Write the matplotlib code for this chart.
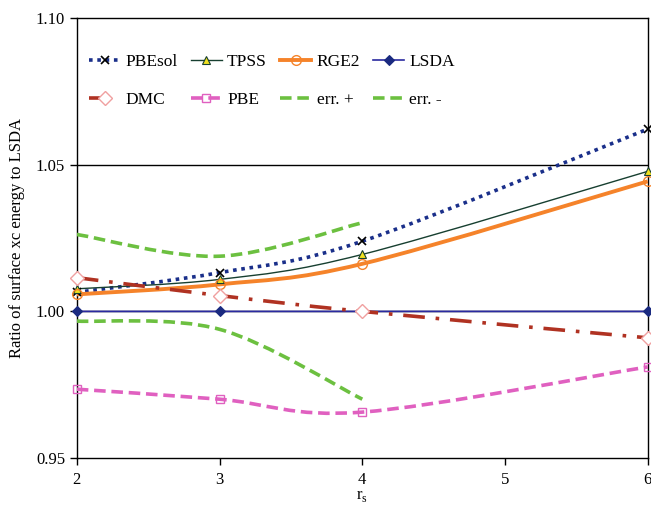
import numpy as np
import matplotlib
matplotlib.use("Agg")
import matplotlib.pyplot as plt
from matplotlib.path import Path
from matplotlib.patches import PathPatch
from matplotlib.lines import Line2D

plt.rcParams['font.family'] = ['Liberation Serif', 'DejaVu Serif']

rs = [2, 3, 4, 6]
rs_err = [2, 3, 4]
pbesol = [1.0065, 1.0132, 1.0239, 1.0621]
tpss = [1.0077, 1.0109, 1.0194, 1.0477]
rge2 = [1.0058, 1.0092, 1.0162, 1.0443]
lsda = [1.0, 1.0, 1.0, 1.0]
dmc = [1.0115, 1.0054, 1.0000, 0.9910]
pbe = [0.9735, 0.9701, 0.9657, 0.9811]
err_plus = [1.0262, 1.0188, 1.0302]
err_minus = [0.9967, 0.9939, 0.9701]

xticks = [2, 3, 4, 5, 6]
yticks = [0.95, 1.00, 1.05, 1.10]


def smooth_path(x, y):
    """Excel-style smoothed line as cubic Bezier path through the points."""
    pts = np.column_stack([x, y]).astype(float)
    n = len(pts)
    verts = [pts[0]]
    codes = [Path.MOVETO]
    for i in range(n - 1):
        p0 = pts[i - 1] if i > 0 else pts[i]
        p1 = pts[i]
        p2 = pts[i + 1]
        p3 = pts[i + 2] if i + 2 < n else pts[i + 1]
        c1 = p1 + (p2 - p0) / 6.0
        c2 = p2 - (p3 - p1) / 6.0
        verts += [c1, c2, p2]
        codes += [Path.CURVE4] * 3
    return Path(verts, codes)


fig = plt.figure(figsize=(6.51, 5.08), dpi=100)
ax = fig.add_axes([0.118, 0.098, 0.877, 0.867])
ax.set_xlim(2, 6)
ax.set_ylim(0.95, 1.10)

for g in [1.00, 1.05]:
    ax.axhline(g, color='black', lw=1.0, zorder=1)

series = [
    dict(x=rs, y=pbesol, color='#1a2f8a', lw=2.6, ls=(0, (1, 1.3)), marker='x',
         mfc='none', mec='black', ms=6, mew=1.2, label='PBEsol'),
    dict(x=rs, y=tpss, color='#173f30', lw=1.0, ls='-', marker='^',
         mfc='#f0e020', mec='#173f30', ms=6, mew=0.8, label='TPSS'),
    dict(x=rs, y=rge2, color='#f5832a', lw=2.8, ls='-', marker='o',
         mfc='none', mec='#f5832a', ms=7, mew=1.0, label='RGE2'),
    dict(x=rs, y=lsda, color='#2a2aa0', lw=1.2, ls='-', marker='D',
         mfc='#1a2a80', mec='#1a2a80', ms=5, mew=0.8, label='LSDA'),
    dict(x=rs, y=dmc, color='#b03222', lw=2.6, ls=(0, (6, 3, 1, 3)), marker='D',
         mfc='white', mec='#f0a0a0', ms=7, mew=1.0, label='DMC'),
    dict(x=rs, y=pbe, color='#e060c0', lw=2.6, ls=(0, (3.2, 1.6)), marker='s',
         mfc='none', mec='#e060c0', ms=6, mew=1.0, label='PBE'),
    dict(x=rs_err, y=err_plus, color='#6cc040', lw=2.6, ls=(0, (3.2, 1.6)), marker=None,
         mfc='none', mec='none', ms=0, mew=0, label='err. +'),
    dict(x=rs_err, y=err_minus, color='#6cc040', lw=2.6, ls=(0, (3.2, 1.6)), marker=None,
         mfc='none', mec='none', ms=0, mew=0, label='err. -'),
]

handles = {}
for s in series:
    patch = PathPatch(smooth_path(s['x'], s['y']), facecolor='none', edgecolor=s['color'],
                      lw=s['lw'], linestyle=s['ls'], zorder=3, clip_on=True)
    ax.add_patch(patch)
    if s['marker']:
        ax.plot(s['x'], s['y'], ls='none', marker=s['marker'], mfc=s['mfc'], mec=s['mec'],
                ms=s['ms'], mew=s['mew'], zorder=4, clip_on=False)
    handles[s['label']] = Line2D([], [], color=s['color'], lw=s['lw'], ls=s['ls'],
                                 marker=s['marker'], mfc=s['mfc'], mec=s['mec'],
                                 ms=s['ms'], mew=s['mew'])

order = ['PBEsol', 'DMC', 'TPSS', 'PBE', 'RGE2', 'err. +', 'LSDA', 'err. -']
leg = ax.legend([handles[k] for k in order], order, ncol=4, loc='upper left',
                bbox_to_anchor=(0.0, 0.945), frameon=False, fontsize=12.5,
                handlelength=1.8, handletextpad=0.3, columnspacing=0.75,
                labelspacing=1.25, borderaxespad=0.3)

ax.set_xticks(xticks)
ax.set_yticks(yticks)
ax.set_yticklabels(['%.2f' % v for v in yticks])
ax.tick_params(axis='both', direction='out', length=5, width=1.0, labelsize=12, colors='black')
ax.tick_params(axis='x', pad=5)
for sp in ax.spines.values():
    sp.set_linewidth(1.0)
    sp.set_color('black')

ax.set_xlabel(r'r$_\mathregular{s}$', fontsize=12, labelpad=0)
ax.set_ylabel('Ratio of surface xc energy to LSDA', fontsize=12, labelpad=8)

fig.savefig('out.png', dpi=100)
